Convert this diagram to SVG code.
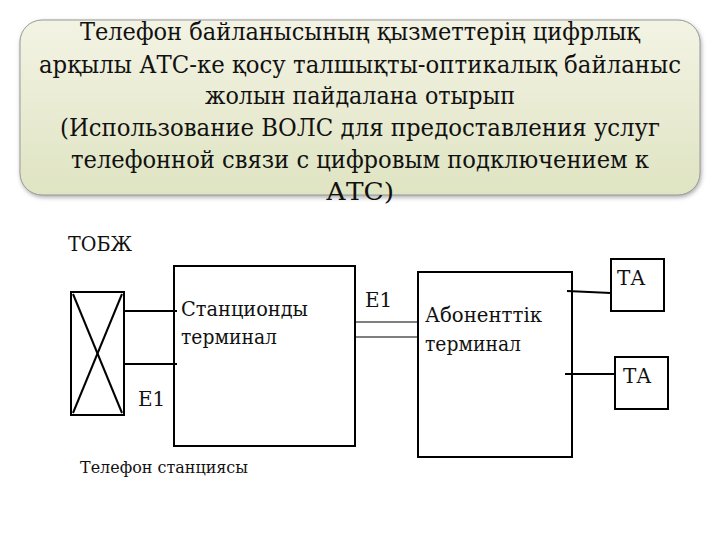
<svg xmlns="http://www.w3.org/2000/svg" width="720" height="540" viewBox="0 0 720 540">
<defs>
<linearGradient id="g" x1="0" y1="0" x2="0" y2="1"><stop offset="0" stop-color="#f3f3e4"/><stop offset="1" stop-color="#dfe4c2"/></linearGradient>
<filter id="sh"><feDropShadow dx="1" dy="2" stdDeviation="2" flood-color="#777" flood-opacity="0.6"/></filter>
</defs>
<style>
text{font-family:"DejaVu Serif","Liberation Serif",serif;fill:#111}
.t{font-size:24px;text-anchor:middle}
.l{font-size:20px}
.b{fill:#fff;stroke:#000;stroke-width:2}
.c line{stroke:#000;stroke-width:2}
</style>
<rect width="720" height="540" fill="#fff"/>
<g id="title">
<rect x="20" y="20" width="680" height="175" rx="22" fill="url(#g)" stroke="#999" stroke-width="1" filter="url(#sh)"/>
<text class="t" x="360" y="40" textLength="560" lengthAdjust="spacingAndGlyphs">Телефон байланысының қызметтерің цифрлық</text>
<text class="t" x="360" y="73" textLength="642" lengthAdjust="spacingAndGlyphs">арқылы АТС-ке қосу  талшықты-оптикалық байланыс</text>
<text class="t" x="360" y="104" textLength="310" lengthAdjust="spacingAndGlyphs">жолын пайдалана отырып</text>
<text class="t" x="360" y="136" textLength="600" lengthAdjust="spacingAndGlyphs">(Использование  ВОЛС для предоставления услуг</text>
<text class="t" x="360" y="168" textLength="578" lengthAdjust="spacingAndGlyphs">телефонной связи  с цифровым подключением к</text>
<text class="t" x="360" y="200" textLength="68" lengthAdjust="spacingAndGlyphs">АТС)</text>
</g>
<text class="l" x="68" y="251" textLength="64" lengthAdjust="spacingAndGlyphs">ТОБЖ</text>
<g id="switch">
<rect class="b" x="71" y="292" width="53" height="123"/>
<line x1="73" y1="294" x2="122" y2="413" stroke="#000" stroke-width="2"/>
<line x1="122" y1="294" x2="73" y2="413" stroke="#000" stroke-width="2"/>
</g>
<g id="station"><rect class="b" x="174" y="266" width="181" height="180"/>
<text class="l" x="181" y="316" textLength="127" lengthAdjust="spacingAndGlyphs">Станционды</text><text class="l" x="181" y="344" textLength="96" lengthAdjust="spacingAndGlyphs">терминал</text></g>
<g id="subscriber"><rect class="b" x="418" y="272" width="154" height="185"/>
<text class="l" x="425" y="322" textLength="117" lengthAdjust="spacingAndGlyphs">Абоненттік</text><text class="l" x="425" y="351" textLength="96" lengthAdjust="spacingAndGlyphs">терминал</text></g>
<g id="ta1"><rect class="b" x="611" y="259" width="53" height="52"/><text class="l" x="617" y="285">ТА</text></g>
<g id="ta2"><rect class="b" x="615" y="357" width="53" height="52"/><text class="l" x="623" y="383">ТА</text></g>
<g class="c" id="connectors">
<line x1="124" y1="311" x2="177" y2="311"/>
<line x1="124" y1="364" x2="177" y2="364"/>
<line x1="355" y1="322" x2="418" y2="322" style="stroke-width:1"/>
<line x1="355" y1="337" x2="418" y2="337" style="stroke-width:1"/>
<line x1="567" y1="291" x2="611" y2="293"/>
<line x1="565" y1="374" x2="615" y2="374"/>
</g>
<text class="l" x="365" y="307">E1</text>
<text class="l" x="138" y="406">E1</text>
<text x="80" y="473" style="font-size:16px" textLength="168" lengthAdjust="spacingAndGlyphs">Телефон станциясы</text>
</svg>
